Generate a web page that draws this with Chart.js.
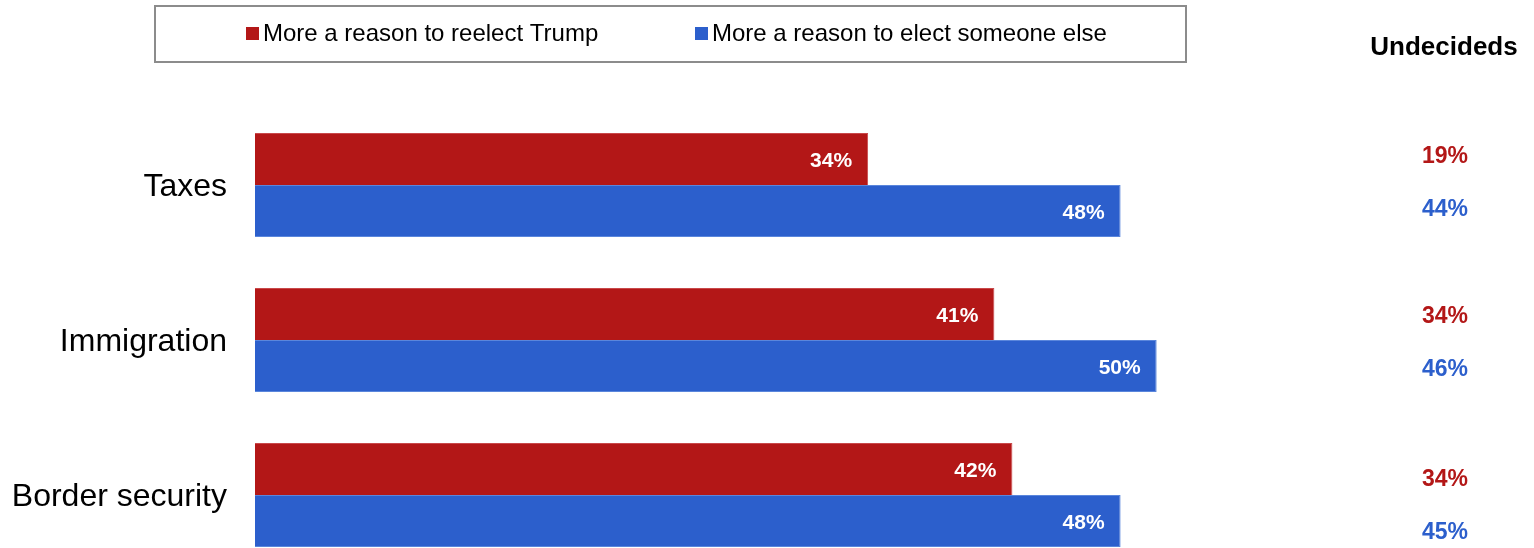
<!DOCTYPE html>
<html>
<head>
<meta charset="utf-8">
<script src="https://cdn.jsdelivr.net/npm/chart.js@4/dist/chart.umd.min.js"></script>
<style>
  html, body { margin: 0; padding: 0; background: #fff; overflow: hidden; }
  canvas { display: block; }
</style>
</head>
<body>
<canvas id="issuesChart" width="1534" height="580"></canvas>
<script>
// Issues and the share of voters who say each one is a reason for their vote
const issues = ['Taxes', 'Immigration', 'Border security'];
const reelectTrump = [34, 41, 42];
const electSomeoneElse = [48, 50, 48];

// Same question, undecided voters only
const undecidedTrump = [19, 34, 34];
const undecidedElse = [44, 46, 45];

const RED = '#b31717';
const BLUE = '#2c5fcc';
const FONT = '"Liberation Sans", Arial, sans-serif';

// Boxed legend across the top
const boxLegend = {
    id: 'boxLegend',
    afterDraw(chart) {
        const ctx = chart.ctx;
        ctx.save();
        ctx.strokeStyle = '#8c8c8c';
        ctx.lineWidth = 2;
        ctx.strokeRect(155, 6, 1031, 56);
        ctx.font = '24px ' + FONT;
        ctx.textBaseline = 'middle';
        ctx.textAlign = 'left';
        const starts = [246, 695];
        chart.data.datasets.forEach((ds, i) => {
            ctx.fillStyle = ds.backgroundColor;
            ctx.fillRect(starts[i], 27, 13, 13);
            ctx.fillStyle = '#000';
            ctx.fillText(ds.label, starts[i] + 17, 34);
        });
        ctx.restore();
    }
};

// Value labels inside the bar ends plus the "Undecideds" column
const barText = {
    id: 'barText',
    afterDatasetsDraw(chart) {
        const ctx = chart.ctx;
        ctx.save();
        ctx.textBaseline = 'middle';
        ctx.font = 'bold 21px ' + FONT;
        ctx.fillStyle = '#fff';
        ctx.textAlign = 'right';
        chart.data.datasets.forEach((ds, i) => {
            chart.getDatasetMeta(i).data.forEach((bar, j) => {
                ctx.fillText(ds.data[j] + '%', bar.x - 16, bar.y + 2);
            });
        });

        ctx.textAlign = 'center';
        ctx.font = 'bold 26px ' + FONT;
        ctx.fillStyle = '#000';
        ctx.fillText('Undecideds', 1444, 48);

        // the side column runs on its own row spacing, not the bars'
        const rowTop = [157, 317, 480];
        ctx.font = 'bold 23px ' + FONT;
        [undecidedTrump, undecidedElse].forEach((vals, i) => {
            ctx.fillStyle = i === 0 ? RED : BLUE;
            vals.forEach((v, j) => {
                ctx.fillText(v + '%', 1445, rowTop[j] + i * 53);
            });
        });
        ctx.restore();
    }
};

new Chart(document.getElementById('issuesChart'), {
    type: 'bar',
    data: {
        labels: issues,
        datasets: [{
            label: 'More a reason to reelect Trump',
            data: reelectTrump,
            backgroundColor: RED,
            borderColor: '#c9484a',
            borderWidth: { top: 1, right: 1, bottom: 0, left: 1 },
            categoryPercentage: 0.67,
            barPercentage: 1
        }, {
            label: 'More a reason to elect someone else',
            data: electSomeoneElse,
            backgroundColor: BLUE,
            borderColor: '#5a86dc',
            borderWidth: 1,
            categoryPercentage: 0.67,
            barPercentage: 1
        }]
    },
    options: {
        indexAxis: 'y',
        responsive: false,
        animation: false,
        layout: { padding: { top: 107.5, bottom: 7.5, right: 197, left: 0 } },
        plugins: {
            legend: { display: false },
            tooltip: { enabled: false }
        },
        scales: {
            x: {
                min: 0,
                max: 60,
                display: false
            },
            y: {
                grid: { display: false, drawTicks: false },
                border: { display: false },
                ticks: {
                    padding: 28,
                    labelOffset: 2,
                    color: '#000',
                    font: { family: FONT, size: 32 }
                },
                afterFit(scale) {
                    scale.width = 255;
                    scale.paddingTop = 0;
                    scale.paddingBottom = 0;
                }
            }
        }
    },
    plugins: [boxLegend, barText]
});
</script>
</body>
</html>
